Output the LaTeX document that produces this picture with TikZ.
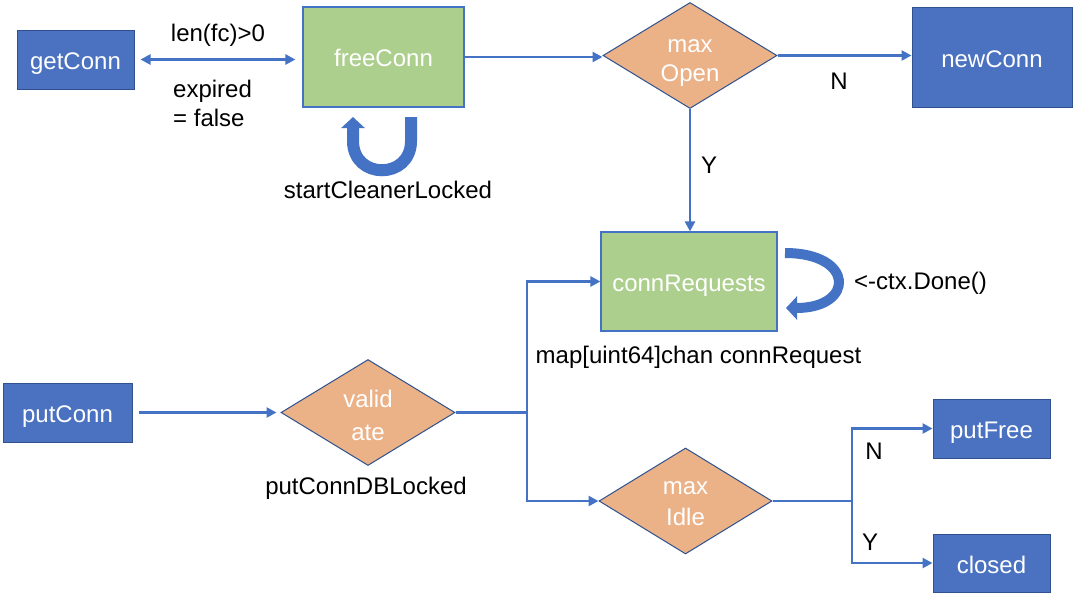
\documentclass[tikz,border=0pt]{standalone}
\usepackage{fontspec}
\setmainfont{Liberation Sans}
\usetikzlibrary{arrows.meta,shapes.geometric,calc}
\definecolor{boxblue}{HTML}{4A72C0}
\definecolor{edgeblue}{HTML}{2F528F}
\definecolor{lineblue}{HTML}{4472C4}
\definecolor{boxgreen}{HTML}{ADCF8E}
\definecolor{boxorange}{HTML}{EBB187}
\begin{document}
\begin{tikzpicture}[x=1pt,y=-1pt,
  >={Triangle[length=10pt,width=10pt]},
  every node/.style={font=\fontsize{24}{30}\selectfont, inner sep=0pt},
  bluebox/.style={rectangle, draw=edgeblue, line width=1pt, fill=boxblue, text=white,
    text height=22pt, text depth=2pt},
  greenbox/.style={rectangle, draw=lineblue, line width=1.2pt, fill=boxgreen, text=white,
    text height=21pt, text depth=2pt},
  decision/.style={diamond, draw=edgeblue, line width=1pt, fill=boxorange,
    minimum width=174pt, minimum height=106pt},
  dtext/.style={text=white, align=center},
  lbl/.style={text=black},
  conn/.style={draw=lineblue, line width=2.8pt},
  arr/.style={conn, ->},
  loopa/.style={draw=lineblue, line width=#1, -{Triangle[length=11pt,width=23pt]}}
]
\useasboundingbox[fill=white] (0,0) rectangle (1080,606);

% nodes
\node[bluebox, minimum width=117pt, minimum height=59pt] (getConn) at (75.5,59.5) {getConn};
\node[greenbox, minimum width=161pt, minimum height=100pt] (freeConn) at (383.5,57) {freeConn};
\node[decision] (maxOpen) at (690,55.5) {};
\node[dtext, font=\fontsize{24}{29}\selectfont] (maxOpenT) at ($(maxOpen.center)+(0,8)$) {max\\Open};
\node[bluebox, minimum width=160pt, minimum height=100pt] (newConn) at (992,57) {newConn};
\node[greenbox, minimum width=176pt, minimum height=99pt] (connRequests) at (689,281.5) {connRequests};
\node[bluebox, minimum width=129pt, minimum height=59pt] (putConn) at (67.5,412.5) {putConn};
\node[decision] (validate) at (368,412.5) {};
\node[dtext, font=\fontsize{24}{33}\selectfont] (validateT) at ($(validate.center)+(0,3)$) {valid\\ate};
\node[decision, minimum width=173pt] (maxIdle) at (685.5,501) {};
\node[dtext, font=\fontsize{24}{31}\selectfont] (maxIdleT) at ($(maxIdle.center)+(0,3)$) {max\\Idle};
\node[bluebox, minimum width=117pt, minimum height=59pt] (putFree) at (991.5,428.5) {putFree};
\node[bluebox, minimum width=117pt, minimum height=58pt] (closed) at (991.5,563) {closed};

% labels
\node[lbl] (lenfc) at (218,35) {len(fc)>0};
\node[lbl, anchor=west, align=left, font=\fontsize{24}{29}\selectfont] (expired) at (173,103.5) {expired\\= false};
\node[lbl] (cleaner) at (388,190) {startCleanerLocked};
\node[lbl] (nOpen) at (839,81) {N};
\node[lbl] (yOpen) at (709,165) {Y};
\node[lbl] (ctxDone) at (920.5,283) {<-ctx.Done()};
\node[lbl] (mapLbl) at (698.5,357) {map[uint64]chan connRequest};
\node[lbl] (putLocked) at (366,488) {putConnDBLocked};
\node[lbl] (nIdle) at (874,451) {N};
\node[lbl] (yIdle) at (870,542) {Y};

% connectors
\draw[conn, <->, shorten <=6pt, shorten >=7pt] (getConn.east) -- (getConn.east -| freeConn.west);
\draw[arr] (freeConn.east) -- (freeConn.east -| maxOpen.west);
\draw[arr] (maxOpen.east) -- (maxOpen.east -| newConn.west);
\draw[arr] (maxOpen.south) -- (maxOpen.south |- connRequests.north);
\draw[arr, shorten <=6pt, shorten >=4pt] (putConn.east) -- (putConn.east -| validate.west);

\coordinate (j) at (527,412.5);
\draw[conn] (validate.east) -- (j);
\draw[conn, <->] (connRequests.west) -| (j) |- (maxIdle.west);

\coordinate (k) at (852,501);
\draw[conn] (maxIdle.east) -- (k);
\draw[conn, <->] (putFree.west) -| (k) |- (closed.west);

% self loops
\coordinate (fcA) at (411,117);
\coordinate (fcB) at (353,117);
\draw[loopa=12pt] (fcA) -- (411,141) .. controls (411,180) and (353,180) .. (353,141) -- (fcB);

\coordinate (crA) at (785,253);
\coordinate (crB) at (786,308);
\draw[loopa=10pt] (crA) .. controls (855,253) and (855,308) .. (crB);
\end{tikzpicture}
\end{document}
